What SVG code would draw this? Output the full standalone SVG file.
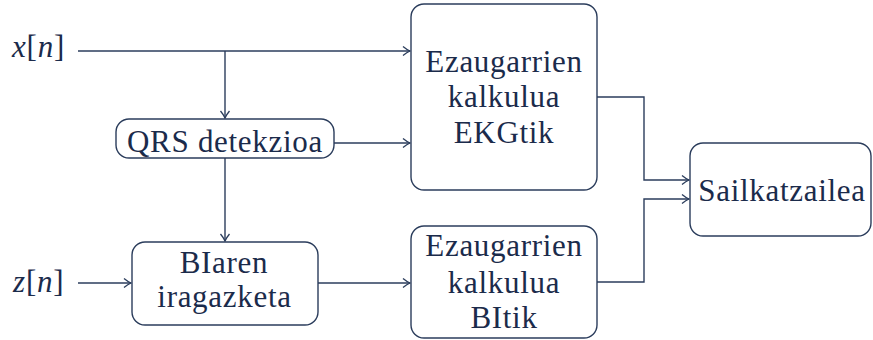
<svg xmlns="http://www.w3.org/2000/svg" width="873" height="340" viewBox="0 0 873 340">
<style>
.box{fill:#fff;stroke:#2b3d5c;stroke-width:1.4}
.t{font-family:"Liberation Serif",serif;font-size:31px;fill:#1b2b4b;text-anchor:middle;letter-spacing:0.7px}
.m{font-family:"Liberation Serif",serif;font-size:31px;fill:#1b2b4b;letter-spacing:0.8px}
.c{fill:none;stroke:#2b3d5c;stroke-width:1.4}
</style>
<defs>
<marker id="ar" markerUnits="userSpaceOnUse" markerWidth="12" markerHeight="12" viewBox="-10 -6 12 12" refX="0" refY="0" orient="auto">
<path d="M-7,-4.5 Q-3,-1.2 0,0 Q-3,1.2 -7,4.5" fill="none" stroke="#2b3d5c" stroke-width="1.3"/>
</marker>
</defs>
<g id="connectors">
<path class="c" d="M78,51 H410" marker-end="url(#ar)"/>
<path class="c" d="M225,51 V118" marker-end="url(#ar)"/>
<path class="c" d="M334,143 H410" marker-end="url(#ar)"/>
<path class="c" d="M225,158 V241" marker-end="url(#ar)"/>
<path class="c" d="M78,283 H131" marker-end="url(#ar)"/>
<path class="c" d="M318,283 H410" marker-end="url(#ar)"/>
<path class="c" d="M597,97 H644 V180 H689" marker-end="url(#ar)"/>
<path class="c" d="M597,282 H644 V199 H689" marker-end="url(#ar)"/>
</g>
<g id="x_in"><text class="m" x="12" y="57"><tspan font-style="italic">x</tspan>[<tspan font-style="italic">n</tspan>]</text></g>
<g id="z_in"><text class="m" x="13" y="292"><tspan font-style="italic">z</tspan>[<tspan font-style="italic">n</tspan>]</text></g>
<g id="ekg">
<rect class="box" x="411" y="4" width="186" height="186" rx="13"/>
<text class="t" x="504" y="72">Ezaugarrien</text>
<text class="t" x="504" y="107">kalkulua</text>
<text class="t" x="504" y="143">EKGtik</text>
</g>
<g id="qrs">
<rect class="box" x="116" y="119" width="218" height="39" rx="13"/>
<text class="t" x="225" y="152">QRS detekzioa</text>
</g>
<g id="bi">
<rect class="box" x="132" y="242" width="186" height="83" rx="13"/>
<text class="t" x="224" y="273">BIaren</text>
<text class="t" x="224.5" y="307">iragazketa</text>
</g>
<g id="bitik">
<rect class="box" x="411" y="226" width="186" height="112" rx="13"/>
<text class="t" x="504" y="256">Ezaugarrien</text>
<text class="t" x="504" y="293">kalkulua</text>
<text class="t" x="504" y="328">BItik</text>
</g>
<g id="sail">
<rect class="box" x="690" y="143" width="181" height="93" rx="13"/>
<text class="t" x="782" y="201">Sailkatzailea</text>
</g>
</svg>
